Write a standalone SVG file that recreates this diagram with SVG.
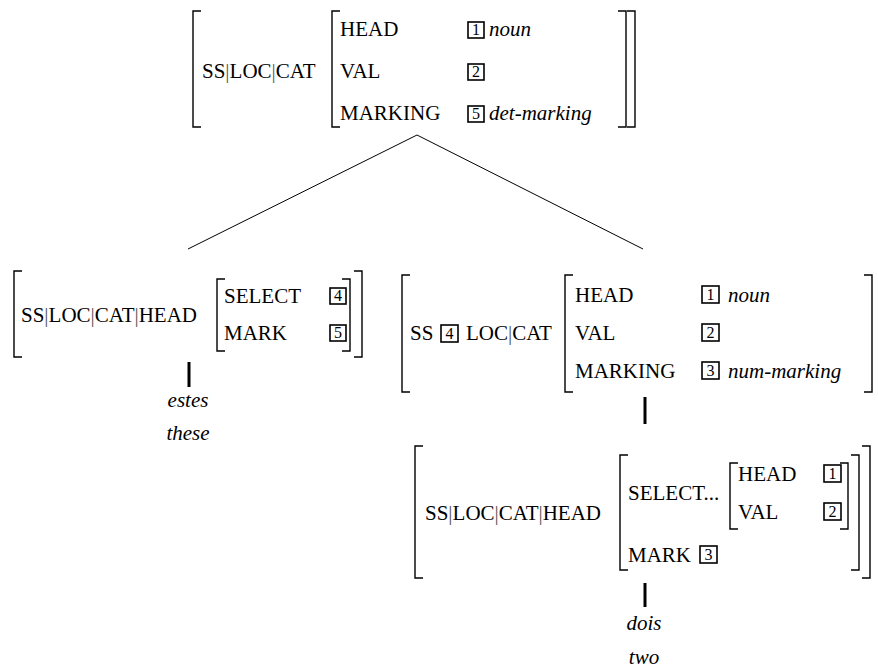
<svg xmlns="http://www.w3.org/2000/svg" width="878" height="669" viewBox="0 0 878 669">
<style>
.br{fill:none;stroke:#000;stroke-width:1.4}
.tag{fill:#fff;stroke:#000;stroke-width:1.6}
.edge{fill:none;stroke:#000;stroke-width:1}
.tick{fill:none;stroke:#000;stroke-width:3}
</style>
<rect width="878" height="669" fill="#fff"/>

<g id="connectors">
<polyline class="edge" points="188,249 417,135 643,249"/>
<line class="tick" x1="189" y1="362" x2="189" y2="387"/>
<line class="tick" x1="645" y1="397" x2="645" y2="424"/>
<line class="tick" x1="645" y1="583" x2="645" y2="607"/>
</g>

<g id="node-top">
<path class="br" d="M201,11H193V127H201"/>
<text font-family="Liberation Serif" font-size="21" x="202" y="78">SS<tspan fill="#555">|</tspan>LOC<tspan fill="#555">|</tspan>CAT</text>
<path class="br" d="M340,11H332V127H340"/>
<text font-family="Liberation Serif" font-size="21" x="340" y="36">HEAD</text>
<text font-family="Liberation Serif" font-size="21" x="340" y="78">VAL</text>
<text font-family="Liberation Serif" font-size="21" x="340" y="120">MARKING</text>
<rect class="tag" x="468" y="22" width="16" height="16"/><text font-family="Liberation Serif" font-size="16" text-anchor="middle" x="476" y="35">1</text>
<text font-family="Liberation Serif" font-size="21" font-style="italic" x="489" y="36">noun</text>
<rect class="tag" x="468" y="64" width="16" height="16"/><text font-family="Liberation Serif" font-size="16" text-anchor="middle" x="476" y="77">2</text>
<rect class="tag" x="468" y="106" width="16" height="16"/><text font-family="Liberation Serif" font-size="16" text-anchor="middle" x="476" y="119">5</text>
<text font-family="Liberation Serif" font-size="21" font-style="italic" x="489" y="120">det-marking</text>
<path class="br" d="M618,11H626V127H618"/>
<path class="br" d="M627,11H635V127H627"/>
</g>

<g id="node-estes">
<path class="br" d="M22,271H14V357H22"/>
<text font-family="Liberation Serif" font-size="21" x="21" y="322">SS<tspan fill="#555">|</tspan>LOC<tspan fill="#555">|</tspan>CAT<tspan fill="#555">|</tspan>HEAD</text>
<path class="br" d="M225,279H217V351H225"/>
<text font-family="Liberation Serif" font-size="21" x="224" y="303">SELECT</text>
<text font-family="Liberation Serif" font-size="21" x="224" y="340">MARK</text>
<rect class="tag" x="330" y="288" width="16" height="16"/><text font-family="Liberation Serif" font-size="16" text-anchor="middle" x="338" y="301">4</text>
<rect class="tag" x="330" y="325" width="16" height="16"/><text font-family="Liberation Serif" font-size="16" text-anchor="middle" x="338" y="338">5</text>
<path class="br" d="M342,279H350V351H342"/>
<path class="br" d="M354,271H362V357H354"/>
<text font-family="Liberation Serif" font-size="21" font-style="italic" x="188" y="407" text-anchor="middle">estes</text>
<text font-family="Liberation Serif" font-size="21" font-style="italic" x="188" y="440" text-anchor="middle">these</text>
</g>

<g id="node-right">
<path class="br" d="M410,275H402V392H410"/>
<text font-family="Liberation Serif" font-size="21" x="410" y="340">SS</text>
<rect class="tag" x="441" y="325" width="17" height="17"/><text font-family="Liberation Serif" font-size="16" text-anchor="middle" x="449.5" y="339">4</text>
<text font-family="Liberation Serif" font-size="21" x="466" y="340">LOC<tspan fill="#555">|</tspan>CAT</text>
<path class="br" d="M573,275H565V392H573"/>
<text font-family="Liberation Serif" font-size="21" x="575" y="302">HEAD</text>
<text font-family="Liberation Serif" font-size="21" x="575" y="340">VAL</text>
<text font-family="Liberation Serif" font-size="21" x="575" y="378">MARKING</text>
<rect class="tag" x="702" y="286" width="17" height="17"/><text font-family="Liberation Serif" font-size="16" text-anchor="middle" x="710.5" y="300">1</text>
<text font-family="Liberation Serif" font-size="21" font-style="italic" x="728" y="302">noun</text>
<rect class="tag" x="702" y="324" width="17" height="17"/><text font-family="Liberation Serif" font-size="16" text-anchor="middle" x="710.5" y="338">2</text>
<rect class="tag" x="702" y="362" width="17" height="17"/><text font-family="Liberation Serif" font-size="16" text-anchor="middle" x="710.5" y="376">3</text>
<text font-family="Liberation Serif" font-size="21" font-style="italic" x="728" y="378">num-marking</text>
<path class="br" d="M864,275H872V392H864"/>
</g>

<g id="node-dois">
<path class="br" d="M423,446H415V578H423"/>
<text font-family="Liberation Serif" font-size="21" x="425" y="520">SS<tspan fill="#555">|</tspan>LOC<tspan fill="#555">|</tspan>CAT<tspan fill="#555">|</tspan>HEAD</text>
<path class="br" d="M628,455H620V570H628"/>
<text font-family="Liberation Serif" font-size="21" x="628" y="500">SELECT...</text>
<text font-family="Liberation Serif" font-size="21" x="628" y="562">MARK</text>
<rect class="tag" x="700" y="546" width="17" height="17"/><text font-family="Liberation Serif" font-size="16" text-anchor="middle" x="708.5" y="560">3</text>
<path class="br" d="M738,463H730V529H738"/>
<text font-family="Liberation Serif" font-size="21" x="738" y="481">HEAD</text>
<text font-family="Liberation Serif" font-size="21" x="738" y="519">VAL</text>
<rect class="tag" x="824" y="465" width="17" height="17"/><text font-family="Liberation Serif" font-size="16" text-anchor="middle" x="832.5" y="479">1</text>
<rect class="tag" x="824" y="503" width="17" height="17"/><text font-family="Liberation Serif" font-size="16" text-anchor="middle" x="832.5" y="517">2</text>
<path class="br" d="M840,463H848V529H840"/>
<path class="br" d="M851,455H859V570H851"/>
<path class="br" d="M862,446H870V578H862"/>
<text font-family="Liberation Serif" font-size="21" font-style="italic" x="644" y="630" text-anchor="middle">dois</text>
<text font-family="Liberation Serif" font-size="21" font-style="italic" x="644" y="664" text-anchor="middle">two</text>
</g>
</svg>
